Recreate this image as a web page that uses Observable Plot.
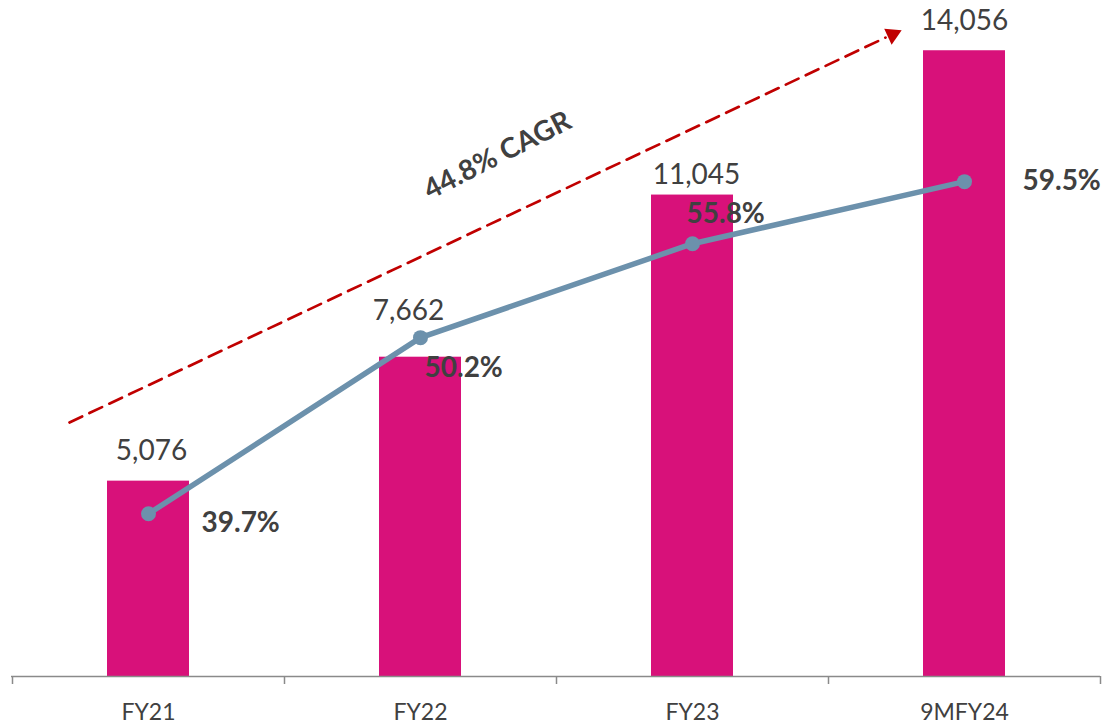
<!DOCTYPE html>
<html><head><meta charset="utf-8">
<script src="https://cdn.jsdelivr.net/npm/d3@7"></script>
<script src="https://cdn.jsdelivr.net/npm/@observablehq/plot@0.6"></script>
<style>body{margin:0;background:#fff;} #chart{width:1107px;height:724px;}</style>
</head><body><div id="chart"></div>
<script>
// ---- data ----
const categories = ["FY21", "FY22", "FY23", "9MFY24"];
const values = [5076, 7662, 11045, 14056];
const shares = [39.7, 50.2, 55.8, 59.5];
const valueLabels = ["5,076", "7,662", "11,045", "14,056"];
const shareLabels = ["39.7%", "50.2%", "55.8%", "59.5%"];
const cagrLabel = "44.8% CAGR";
const cagrCats = ["FY21", "9MFY24"];
const cagrLevels = [6300, 14330];
const valueDomain = [1000, 15000];
const shareDomain = [30, 70];

// ---- styles ----
const BAR = "#D8117A", LINE = "#6C91AC", TEXT = "#404040", AXIS = "#8A8A8A", RED = "#C00000";
const FONT = "Lato, 'Open Sans', sans-serif";
const valueNudge = {FY21: [3, -30], FY22: [-12, -46], FY23: [4, -20], "9MFY24": [0, -30]};
const shareNudge = {FY21: [53, 9], FY22: [4, 30], FY23: [-6, -30], "9MFY24": [58, -1]};

const toValue = p => valueDomain[0] + (p - shareDomain[0]) / (shareDomain[1] - shareDomain[0]) * (valueDomain[1] - valueDomain[0]);
const rows = categories.map((c, i) => ({cat: c, value: values[i], share: shares[i], sy: toValue(shares[i]), vl: valueLabels[i], sl: shareLabels[i]}));
const trend = cagrCats.map((c, i) => ({cat: c, level: cagrLevels[i]}));

const marks = [
  Plot.barY(rows, {x: "cat", y1: () => valueDomain[0], y2: "value", fill: BAR, insetLeft: 95, insetRight: 95}),
  Plot.ruleY([valueDomain[0]], {stroke: AXIS, strokeWidth: 1.5}),
  Plot.ruleX(categories, {x: d => d, dx: -136, y1: () => valueDomain[0], y2: () => valueDomain[0], insetBottom: -8, stroke: AXIS, strokeWidth: 1.5}),
  Plot.ruleX([categories[categories.length - 1]], {x: d => d, dx: 136, y1: () => valueDomain[0], y2: () => valueDomain[0], insetBottom: -8, stroke: AXIS, strokeWidth: 1.5}),
  Plot.text(categories, {x: d => d, y: () => valueDomain[0], dy: 36, text: d => d, fill: TEXT, fontSize: 23, fontFamily: FONT}),
  Plot.line(trend, {x: "cat", y: "level", dx: -79, stroke: RED, strokeWidth: 2.7, strokeDasharray: "14,8"}),
  Plot.dot(trend.slice(-1), {x: "cat", y: "level", dx: -72, dy: -3, symbol: "triangle", r: 6.5, fill: RED, stroke: "none", rotate: 65}),
  Plot.text([{cat: "FY22", level: 11870}], {x: "cat", y: "level", dx: 77, text: () => cagrLabel, rotate: -27, fill: TEXT, fontSize: 28, fontWeight: "bold", fontFamily: FONT}),
  Plot.line(rows, {x: "cat", y: "sy", stroke: LINE, strokeWidth: 5.5}),
  Plot.dot(rows, {x: "cat", y: "sy", r: 7.5, fill: LINE, stroke: "none"})
];
for (const r of rows) {
  const [vdx, vdy] = valueNudge[r.cat];
  marks.push(Plot.text([r], {x: "cat", y: "value", text: "vl", dx: vdx, dy: vdy, fill: TEXT, fontSize: 28, fontFamily: FONT}));
  const [sdx, sdy] = shareNudge[r.cat];
  marks.push(Plot.text([r], {x: "cat", y: "sy", text: "sl", dx: sdx, dy: sdy, textAnchor: "start", fill: TEXT, fontSize: 28, fontWeight: "bold", fontFamily: FONT}));
}

const chart = Plot.plot({
  width: 1107, height: 724,
  marginTop: 5, marginBottom: 48, marginLeft: 11, marginRight: 7,
  style: {fontFamily: FONT, background: "#fff", overflow: "visible"},
  x: {type: "band", domain: categories, padding: 0, axis: null},
  y: {domain: valueDomain, axis: null},
  marks
});
document.getElementById("chart").appendChild(chart);
</script>
</body></html>
